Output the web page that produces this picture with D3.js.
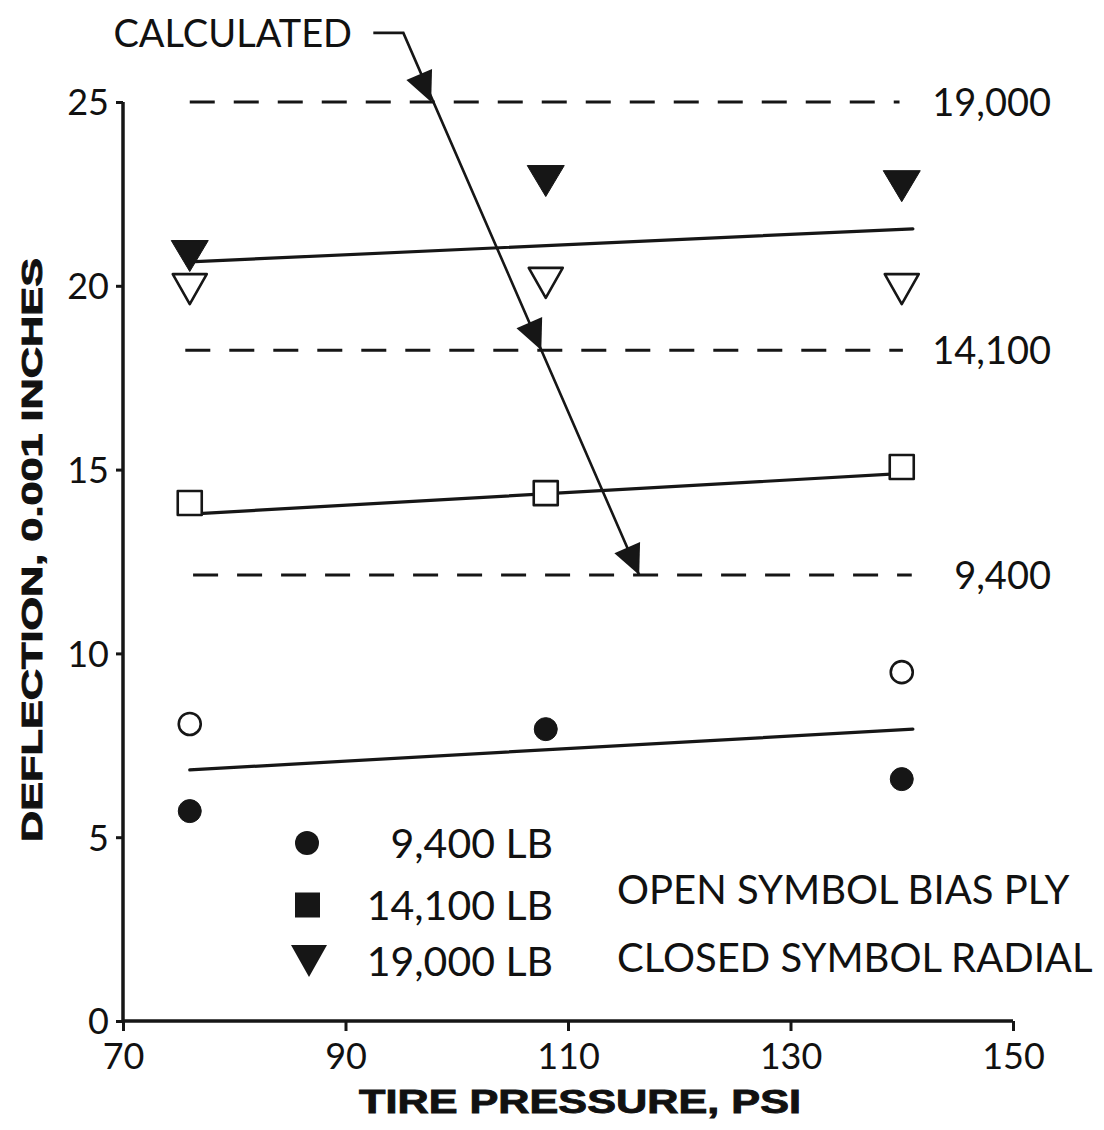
<!DOCTYPE html>
<html>
<head>
<meta charset="utf-8">
<script src="https://cdn.jsdelivr.net/npm/d3@7"></script>
<style>
  body { margin: 0; background: #fff; }
  svg { display: block; }
  .num { font-family: Lato, "Open Sans", sans-serif; fill: #111; }
  .title { font-family: "Liberation Sans", Arial, sans-serif; font-weight: bold; fill: #111; stroke: #111; stroke-width: 0.9px; }
</style>
</head>
<body>
<svg id="chart" width="1104" height="1130"></svg>
<script>
// Axis ticks
const pressureTicks = [70, 90, 110, 130, 150];
const deflectionTicks = [0, 5, 10, 15, 20, 25];

// Test pressures (psi)
const pressures = [76, 108, 140];

// Measured deflections, 0.001 in (null = no reading)
const bias9400 = [8.08, null, 9.49];
const radial9400 = [5.71, 7.94, 6.58];
const bias14100 = [14.09, 14.36, 15.07];
const bias19000 = [19.91, 20.08, 19.91];
const radial19000 = [20.81, 22.85, 22.71];

// Fitted trend lines (end points)
const fitPressure = [76, 141];
const fit9400 = [6.83, 7.94];
const fit14100 = [13.79, 14.91];
const fit19000 = [20.65, 21.55];

// Calculated deflection per load
const calcLabels = ["19,000", "14,100", "9,400"];
const calcDeflection = [25.0, 18.25, 12.13];
const calcFrom = [76.0, 75.6, 76.3];
const calcTo = [139.8, 140.1, 140.9];
// where the "CALCULATED" leader meets each calculated level
const calcArrowPressure = [97.7, 107.6, 116.4];
// leader start and elbow (pressure, deflection)
const leaderPressure = [92.5, 95.2];
const leaderDeflection = 26.88;

// Legend entries
const legendLoads = ["9,400 LB", "14,100 LB", "19,000 LB"];
const legendNotes = ["OPEN SYMBOL BIAS PLY", "CLOSED SYMBOL RADIAL"];

const svg = d3.select("#chart");
const ink = "#161616";

const x = d3.scaleLinear().domain([70, 150]).range([123, 1013]);
const y = d3.scaleLinear().domain([0, 25]).range([1021, 102]);

// ---- axes ----
const yAxis = svg.append("g")
  .attr("transform", `translate(${x(70)},0)`)
  .call(d3.axisLeft(y).tickValues(deflectionTicks).tickSize(7).tickPadding(7).tickFormat(d3.format("d")));
const xAxis = svg.append("g")
  .attr("transform", `translate(0,${y(0)})`)
  .call(d3.axisBottom(x).tickValues(pressureTicks).tickSize(10).tickPadding(6).tickFormat(d3.format("d")));

[yAxis, xAxis].forEach(g => {
  g.select(".domain").attr("stroke", ink).attr("stroke-width", 3.5);
  g.selectAll(".tick line").attr("stroke", ink).attr("stroke-width", 3);
  g.selectAll(".tick text").attr("class", "num").attr("fill", ink).style("font-size", "36px");
});
// axis lines drawn without outer tick stubs
yAxis.select(".domain").attr("d", `M0,${y(25)}V${y(0)}`);
xAxis.select(".domain").attr("d", `M${x(70)},0H${x(150)}`);
yAxis.selectAll(".tick text").attr("dy", "0.36em");
xAxis.selectAll(".tick text").attr("dy", "0.9em");

// axis titles
svg.append("text").attr("class", "title")
  .attr("x", (x(70) + x(150)) / 2 + 12).attr("y", 1113)
  .attr("text-anchor", "middle").style("font-size", "33px")
  .attr("textLength", 442).attr("lengthAdjust", "spacingAndGlyphs")
  .text("TIRE PRESSURE, PSI");
svg.append("text").attr("class", "title")
  .attr("transform", "translate(42,550) rotate(-90)")
  .attr("text-anchor", "middle").style("font-size", "29px")
  .attr("textLength", 584).attr("lengthAdjust", "spacingAndGlyphs")
  .text("DEFLECTION, 0.001 INCHES");

// ---- calculated levels (dashed) ----
calcDeflection.forEach((d, i) => {
  svg.append("line")
    .attr("x1", x(calcFrom[i])).attr("x2", x(calcTo[i]))
    .attr("y1", y(d)).attr("y2", y(d))
    .attr("stroke", ink).attr("stroke-width", 3)
    .attr("stroke-dasharray", "25,19");
  svg.append("text").attr("class", "num")
    .attr("x", 1051).attr("y", y(d)).attr("dy", "0.36em")
    .attr("text-anchor", "end").style("font-size", "38px")
    .text(calcLabels[i]);
});

// ---- fitted lines ----
[fit9400, fit14100, fit19000].forEach(f => {
  svg.append("line")
    .attr("x1", x(fitPressure[0])).attr("x2", x(fitPressure[1]))
    .attr("y1", y(f[0])).attr("y2", y(f[1]))
    .attr("stroke", ink).attr("stroke-width", 3.2)
    .attr("stroke-linecap", "round");
});

// ---- marker helpers ----
const tri = (w, h) => `M${-w / 2},${-h / 2}L${w / 2},${-h / 2}L0,${h / 2}Z`;
function drawSeries(values, kind, filled) {
  const pts = pressures.map((p, i) => ({ p, v: values[i] })).filter(d => d.v != null);
  const g = svg.append("g");
  pts.forEach(d => {
    const cx = x(d.p), cy = y(d.v);
    let m;
    if (kind === "circle") {
      m = g.append("circle").attr("cx", cx).attr("cy", cy).attr("r", filled ? 11.5 : 11);
    } else if (kind === "square") {
      m = g.append("rect").attr("x", cx - 12).attr("y", cy - 12).attr("width", 24).attr("height", 24);
    } else {
      m = g.append("path").attr("transform", `translate(${cx},${cy})`).attr("d", tri(filled ? 37 : 34, filled ? 31 : 30));
    }
    m.attr("fill", filled ? ink : "#fff")
     .attr("stroke", ink).attr("stroke-width", filled ? 1 : 2.6)
     .attr("stroke-linejoin", "round");
  });
}
drawSeries(bias9400, "circle", false);
drawSeries(radial9400, "circle", true);
drawSeries(bias14100, "square", false);
drawSeries(bias19000, "triangle", false);
drawSeries(radial19000, "triangle", true);

// ---- "CALCULATED" leader with arrowheads ----
const lastTip = calcArrowPressure.length - 1;
const leader = [
  [x(leaderPressure[0]), y(leaderDeflection)],
  [x(leaderPressure[1]), y(leaderDeflection)],
  [x(calcArrowPressure[lastTip]), y(calcDeflection[lastTip])]
];
svg.append("path")
  .attr("d", d3.line()(leader))
  .attr("fill", "none").attr("stroke", ink).attr("stroke-width", 2.6)
  .attr("stroke-linejoin", "miter");
const ang = Math.atan2(leader[2][1] - leader[1][1], leader[2][0] - leader[1][0]) * 180 / Math.PI;
calcArrowPressure.forEach((p, i) => {
  svg.append("path")
    .attr("transform", `translate(${x(p)},${y(calcDeflection[i])}) rotate(${ang})`)
    .attr("d", "M0,0L-30,-14L-30,14Z")
    .attr("fill", ink);
});
svg.append("text").attr("class", "num")
  .attr("x", 352).attr("y", y(leaderDeflection)).attr("dy", "0.36em")
  .attr("text-anchor", "end").style("font-size", "38px")
  .text("CALCULATED");

// ---- legend ----
const legendY = [843, 905, 961];
const lg = svg.append("g");
lg.append("circle").attr("cx", 307).attr("cy", legendY[0]).attr("r", 12).attr("fill", ink);
lg.append("rect").attr("x", 295).attr("y", legendY[1] - 12.5).attr("width", 25).attr("height", 25).attr("fill", ink);
lg.append("path").attr("transform", `translate(309,${legendY[2]})`).attr("d", tri(36, 32)).attr("fill", ink);
legendLoads.forEach((t, i) => {
  lg.append("text").attr("class", "num")
    .attr("x", 553).attr("y", legendY[i]).attr("dy", "0.36em")
    .attr("text-anchor", "end").style("font-size", "41px")
    .text(t);
});
const noteY = [890, 958];
legendNotes.forEach((t, i) => {
  lg.append("text").attr("class", "num")
    .attr("x", 617).attr("y", noteY[i]).attr("dy", "0.36em")
    .style("font-size", "40px")
    .text(t);
});
</script>
</body>
</html>
